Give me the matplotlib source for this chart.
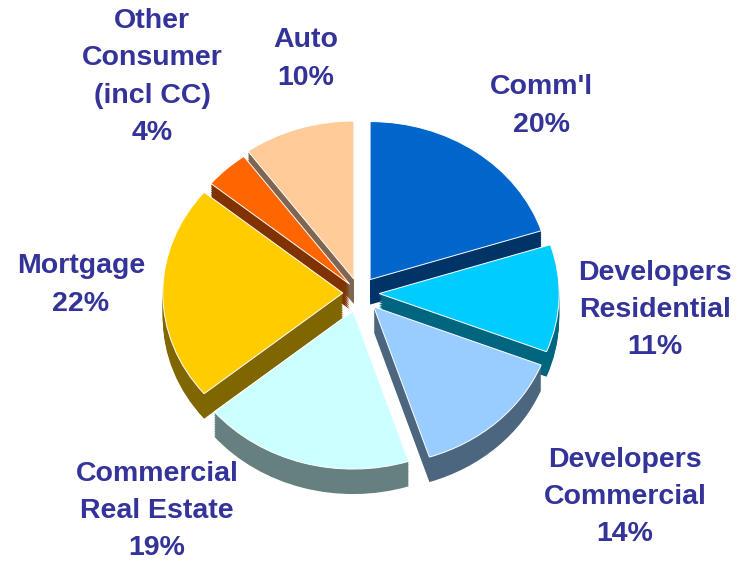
import matplotlib
matplotlib.use("Agg")
import matplotlib.pyplot as plt

categories = ["Comm'l", "Developers\nResidential", "Developers\nCommercial",
              "Commercial\nReal Estate", "Mortgage", "Other\nConsumer\n(incl CC)", "Auto"]
values = [20, 11, 14, 19, 22, 4, 10]
explode = [0.105, 0.112, 0.12, 0.119, 0.09, 0.076, 0.093]
top_colors = ["#0066CC", "#00CCFF", "#99CCFF", "#CCFFFF", "#FFCC00", "#FF6600", "#FFCC99"]
wall_colors = ["#003366", "#006680", "#4D6680", "#668080", "#806600", "#803300", "#806650"]
paint_rank = [3, 4, 5, 6, 2, 1, 0]
label_x = [541, 655, 625, 157, 81, 152, 306]
label_y = [106, 310, 497, 511, 285, 77, 59]

W, H = 738, 562
fig = plt.figure(figsize=(W / 100, H / 100), dpi=100, facecolor="white")
ax = fig.add_axes([0, 0, 1, 1])
R_PX_X = 180.0
R_PX_Y = 158.0
CX, CY = 359.0, 293.0
DEPTH_PX = 25
STEPS = 14

for k in range(STEPS, -1, -1):
    off = DEPTH_PX * k / STEPS
    wedges, _ = ax.pie(values, explode=explode, startangle=90, counterclock=False,
                       colors=top_colors if k == 0 else wall_colors,
                       radius=1.0, center=(0, -off / R_PX_Y),
                       wedgeprops={"linewidth": 0.7 if k == 0 else 0,
                                   "edgecolor": "white" if k == 0 else "none"})
    for w, r in zip(wedges, paint_rank):
        w.set_zorder(r * 100 + (STEPS - k))

ax.set_aspect(R_PX_Y / R_PX_X)
ax.set_xlim(-CX / R_PX_X, (W - CX) / R_PX_X)
ax.set_ylim(-(H - CY) / R_PX_Y, CY / R_PX_Y)
ax.axis("off")

for name, v, x, y in zip(categories, values, label_x, label_y):
    fig.text(x / W, 1 - y / H, f"{name}\n{v}%", ha="center", va="center",
             family="Liberation Sans", weight="bold", fontsize=20.5,
             color="#333399", linespacing=1.56)

fig.savefig("out.png", dpi=100)
